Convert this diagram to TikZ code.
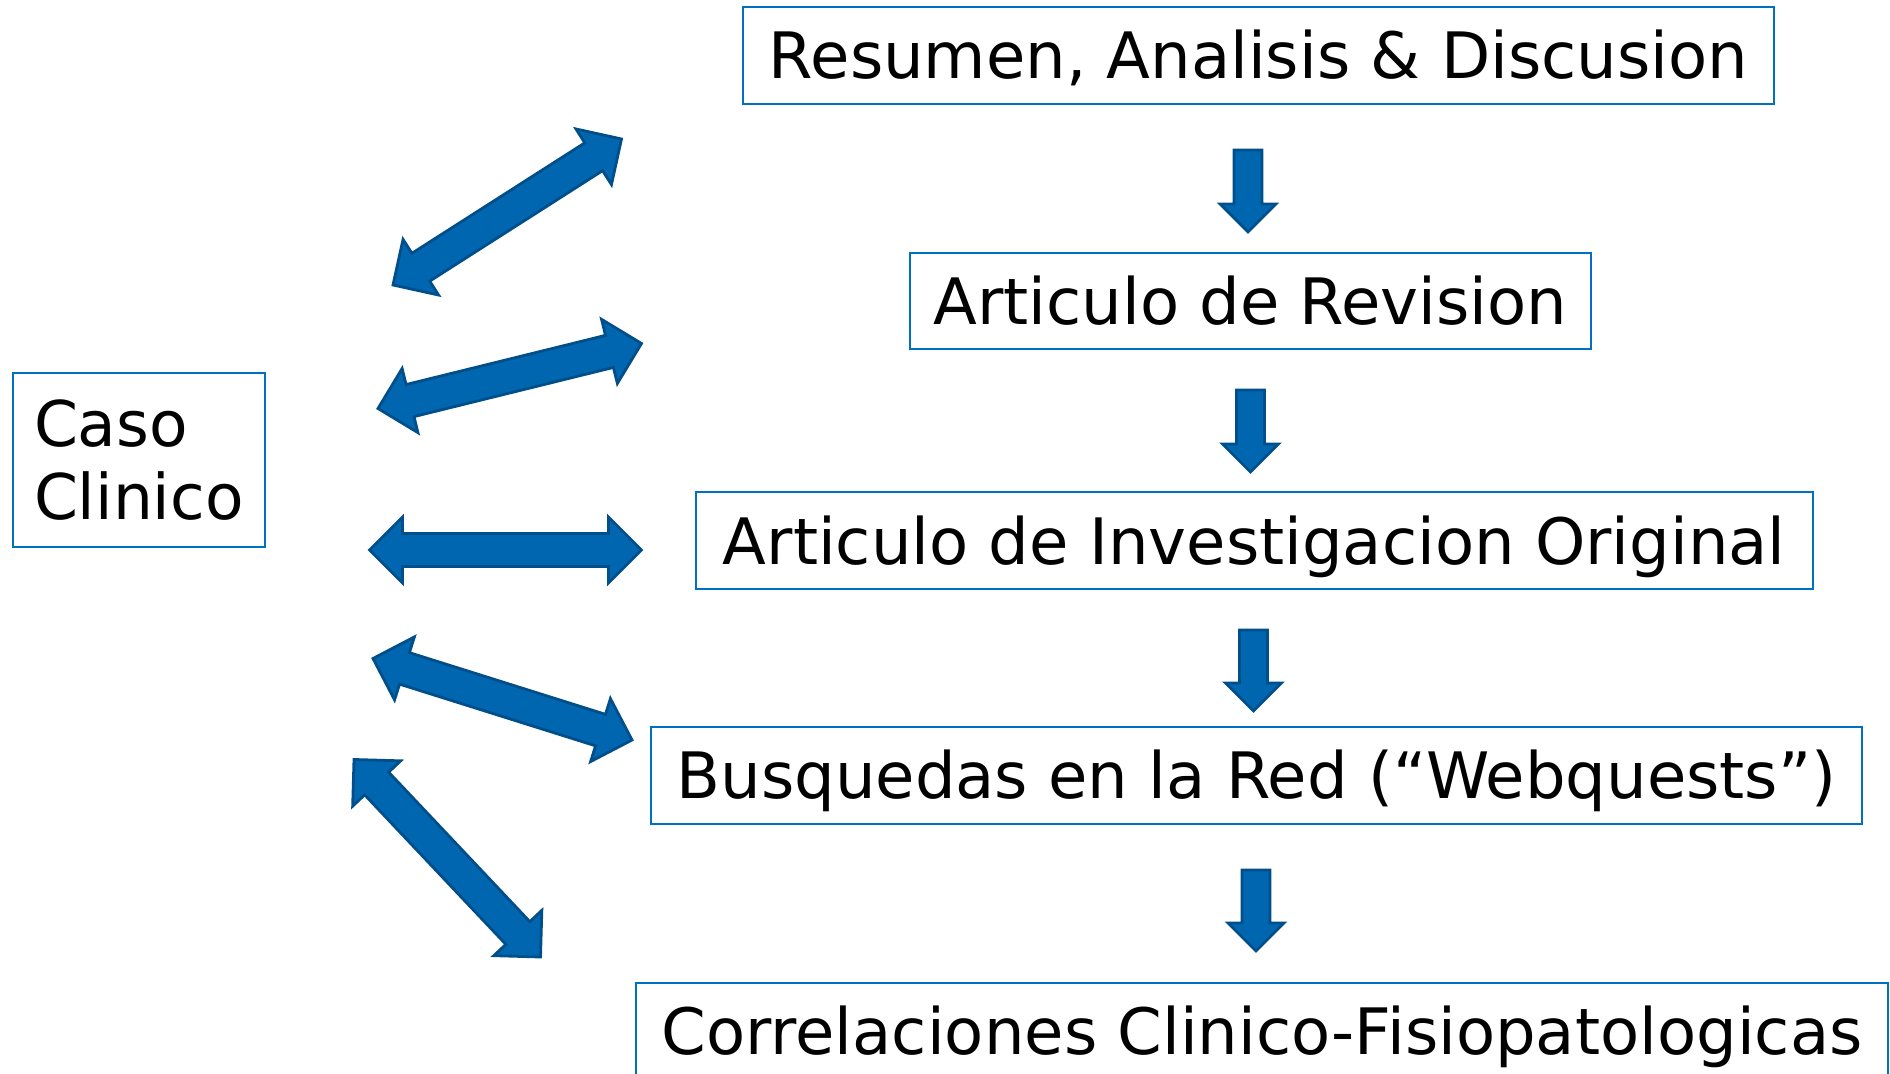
\documentclass[tikz,border=0pt]{standalone}
\usepackage{fontspec}
\setmainfont{DejaVu Sans}
\usetikzlibrary{calc}
\definecolor{arrfill}{RGB}{0,102,176}
\definecolor{arrline}{RGB}{0,78,138}
\definecolor{boxline}{RGB}{0,112,192}
\tikzset{
  blk/.style={fill=arrfill, draw=arrline, line width=1.4pt},
  stagebox/.style={draw=boxline, line width=1pt, rectangle, inner sep=0pt,
    font=\fontsize{32pt}{38pt}\selectfont, text height=23.3pt, text depth=0pt},
}
% double-headed block arrow between two named points
\newcommand\dblarr[2]{%
  \draw[blk] (#1)
    -- ($(#1)!16.5pt!(#2)!16.5pt!90:(#2)$)
    -- ($(#1)!16.5pt!(#2)!8.25pt!90:(#2)$)
    -- ($(#2)!16.5pt!(#1)!8.25pt!-90:(#1)$)
    -- ($(#2)!16.5pt!(#1)!16.5pt!-90:(#1)$)
    -- (#2)
    -- ($(#2)!16.5pt!(#1)!16.5pt!90:(#1)$)
    -- ($(#2)!16.5pt!(#1)!8.25pt!90:(#1)$)
    -- ($(#1)!16.5pt!(#2)!8.25pt!-90:(#2)$)
    -- ($(#1)!16.5pt!(#2)!16.5pt!-90:(#2)$)
    -- cycle;}
% single block arrow from tail centre #1 to tip #2
\newcommand\sglarr[2]{%
  \draw[blk] ($(#1)!7pt!90:(#2)$)
    -- ($(#2)!14pt!(#1)!7pt!-90:(#1)$)
    -- ($(#2)!14pt!(#1)!14pt!-90:(#1)$)
    -- (#2)
    -- ($(#2)!14pt!(#1)!14pt!90:(#1)$)
    -- ($(#2)!14pt!(#1)!7pt!90:(#1)$)
    -- ($(#1)!7pt!-90:(#2)$)
    -- cycle;}
\begin{document}
\begin{tikzpicture}[x=0.5pt, y=-0.5pt]
\useasboundingbox (0,0) rectangle (1890,1074);

% stage boxes
\node[stagebox, minimum width=515.5pt, minimum height=48.5pt] (resumen) at (1258.5,55.5) {Resumen, Analisis \& Discusion};
\node[stagebox, minimum width=340.5pt, minimum height=48pt] (revision) at (1250.5,301) {Articulo de Revision};
\node[stagebox, minimum width=558.75pt, minimum height=48.75pt] (original) at (1254.25,540.75) {Articulo de Investigacion Original};
\node[stagebox, minimum width=605.5pt, minimum height=48.5pt] (webquest) at (1256.5,775.5) {Busquedas en la Red (“Webquests”)};
\node[stagebox, minimum width=626pt, minimum height=48.5pt] (correl) at (1262,1031.5) {Correlaciones Clinico-Fisiopatologicas};

% case box
\node[draw=boxline, line width=1pt, rectangle, inner sep=0pt,
      minimum width=126pt, minimum height=87pt, text width=105pt, align=left,
      font=\fontsize{31.5pt}{36.9pt}\selectfont] (caso) at (139,460) {Caso\\Clinico};

% down arrows between stages
\coordinate (d1a) at (1248,150);   \coordinate (d1b) at (1248,232);
\coordinate (d2a) at (1250.5,390); \coordinate (d2b) at (1250.5,472);
\coordinate (d3a) at (1253.5,630); \coordinate (d3b) at (1253.5,711);
\coordinate (d4a) at (1256,870);   \coordinate (d4b) at (1256,951);
\sglarr{d1a}{d1b}
\sglarr{d2a}{d2b}
\sglarr{d3a}{d3b}
\sglarr{d4a}{d4b}

% double arrows from the case
\coordinate (a1s) at (393,285);   \coordinate (a1e) at (621.5,139);
\coordinate (a2s) at (378,408.5); \coordinate (a2e) at (641.5,343.5);
\coordinate (a3s) at (369.5,550); \coordinate (a3e) at (641.5,550);
\coordinate (a4s) at (373,658.5); \coordinate (a4e) at (632,740);
\coordinate (a5s) at (354,759.5); \coordinate (a5e) at (540.5,957);
\dblarr{a1s}{a1e}
\dblarr{a2s}{a2e}
\dblarr{a3s}{a3e}
\dblarr{a4s}{a4e}
\dblarr{a5s}{a5e}
\end{tikzpicture}
\end{document}
